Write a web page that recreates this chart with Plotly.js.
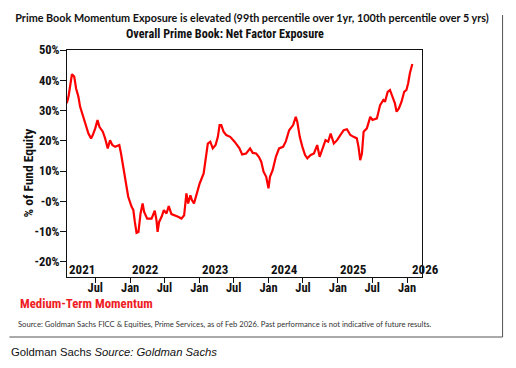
<!DOCTYPE html>
<html>
<head>
<meta charset="utf-8">
<script src="https://cdn.plot.ly/plotly-3.0.1.min.js"></script>
<style>
html,body{margin:0;padding:0;background:#fff;}
#chart{width:516px;height:368px;}
</style>
</head>
<body>
<div id="chart"></div>
<script>
// Data (approximate)
const dates = [
 '2021-02-01','2021-02-10','2021-02-28','2021-03-12','2021-03-22','2021-04-03','2021-04-12','2021-04-26','2021-05-08','2021-05-26',
 '2021-06-09','2021-06-18','2021-07-01','2021-07-13','2021-07-23','2021-08-10','2021-08-22','2021-09-05','2021-09-17','2021-09-29',
 '2021-10-14','2021-11-05','2021-11-14','2021-11-26','2021-12-09','2021-12-22','2022-01-09','2022-01-18','2022-01-26','2022-02-04',
 '2022-02-14','2022-02-25','2022-03-08','2022-03-16','2022-04-01','2022-04-24','2022-05-11','2022-05-20','2022-05-26','2022-06-03',
 '2022-06-16','2022-06-28','2022-07-12','2022-07-24','2022-08-07','2022-08-25','2022-09-11','2022-09-29','2022-10-13','2022-10-25',
 '2022-11-03','2022-11-15','2022-11-23','2022-12-04','2022-12-20','2023-01-03','2023-01-24','2023-02-07','2023-02-15','2023-02-28',
 '2023-03-13','2023-03-28','2023-04-09','2023-04-18','2023-04-27','2023-05-09','2023-05-23','2023-06-13','2023-07-06','2023-08-01',
 '2023-08-15','2023-09-05','2023-09-26','2023-10-10','2023-10-28','2023-11-11','2023-11-24','2023-12-06','2023-12-20','2024-01-01',
 '2024-01-09','2024-01-23','2024-02-09','2024-02-26','2024-03-18','2024-04-01','2024-04-19','2024-05-10','2024-05-24','2024-06-01',
 '2024-06-14','2024-06-28','2024-07-12','2024-07-24','2024-08-11','2024-08-28','2024-09-14','2024-09-27','2024-10-14','2024-10-28',
 '2024-11-11','2024-11-24','2024-12-11','2024-12-28','2025-01-14','2025-02-01','2025-02-18','2025-03-08','2025-03-25','2025-04-11',
 '2025-04-20','2025-04-29','2025-05-08','2025-05-17','2025-06-03','2025-06-21','2025-07-03','2025-07-26','2025-08-12','2025-08-29',
 '2025-09-07','2025-09-21','2025-10-03','2025-10-15','2025-10-29','2025-11-07','2025-11-19','2025-12-03','2025-12-17','2025-12-29',
 '2026-01-07','2026-01-16','2026-01-25','2026-01-29'
];
const momentum = [
 32.4,34.6,42.0,41.2,37.3,34.6,31.3,28.5,26.3,22.4,
 20.8,21.9,24.1,26.9,24.6,23.0,20.8,17.5,20.2,18.6,
 18.0,18.6,15.8,11.4,7.0,1.5,-1.8,-2.9,-6.8,-10.4,
 -10.1,-4.0,-0.7,-3.5,-5.7,-5.7,-3.1,-6.2,-10.1,-6.8,
 -5.1,-2.9,-4.0,-1.6,-4.2,-4.6,-5.1,-5.7,-4.6,2.6,
 -0.7,2.0,0.4,-0.7,2.6,5.9,9.2,15.8,19.1,19.7,
 17.5,18.6,21.3,25.2,25.2,23.0,21.9,21.3,19.7,17.5,
 15.5,15.8,17.5,16.0,15.8,14.7,13.1,9.8,8.1,4.3,
 8.1,10.3,14.7,17.5,18.0,19.7,23.5,25.2,27.9,26.3,
 21.3,18.0,15.3,14.2,15.3,15.8,18.6,14.7,18.0,20.2,
 19.7,22.4,19.1,20.2,21.9,23.5,23.8,21.9,21.3,20.8,
 18.0,13.6,15.8,23.0,24.1,27.9,26.9,27.4,31.8,33.5,
 32.9,36.2,36.8,34.6,32.4,29.6,30.7,32.9,36.2,36.8,
 39.0,42.3,45.0,45.4
];
const yTickVals = [-20,-10,0,10,20,30,40,50];
const yTickText = ['-20%','-10%','-0%','10%','20%','30%','40%','50%'];
const xTickVals = ['2021-07-01','2022-01-01','2022-07-01','2023-01-01','2023-07-01','2024-01-01','2024-07-01','2025-01-01','2025-07-01','2026-01-01'];
const xTickText = ['Jul','Jan','Jul','Jan','Jul','Jan','Jul','Jan','Jul','Jan'];
const yearLabels = ['2021','2022','2023','2024','2025','2026'];
const yearPos = ['2021-02-03','2022-01-03','2023-01-03','2024-01-03','2025-01-03','2026-01-15'];

const condensed = "'Liberation Sans Narrow','Roboto Condensed','DejaVu Sans Condensed',sans-serif";

const annotations = yearLabels.map((t,i)=>({
  text:'<b>'+t+'</b>', x:yearPos[i], xref:'x', y:0.035, yref:'paper',
  xanchor:'left', yanchor:'middle', showarrow:false,
  font:{family:condensed,size:13,color:'#111'}
}));

annotations.push(
 {text:'<b>Overall Prime Book: Net Factor Exposure</b>', xref:'paper', yref:'paper', x:0.445, y:1.0705,
  xanchor:'center', yanchor:'middle', showarrow:false, font:{family:condensed,size:12.2,color:'#111'}},
 {text:'<b>% of Fund Equity</b>', xref:'paper', yref:'paper', x:-0.11, y:0.46, textangle:-90,
  xanchor:'center', yanchor:'middle', showarrow:false, font:{family:condensed,size:13.5,color:'#111'}},
 {text:'<b>Medium-Term Momentum</b>', xref:'paper', yref:'paper', x:-0.137, y:(277-303)/227,
  xanchor:'left', yanchor:'middle', showarrow:false, font:{family:condensed,size:12.8,color:'#ee1c25'}},
 {text:'Source: Goldman Sachs FICC &amp; Equities, Prime Services, as of Feb 2026. Past performance is not indicative of future results.',
  xref:'paper', yref:'paper', x:(16-66.7)/355.6, y:(277-324)/227,
  xanchor:'left', yanchor:'middle', showarrow:false, font:{family:'Lato, sans-serif',size:7.65,color:'#333'}},
 {text:'Goldman Sachs <i>Source: Goldman Sachs</i>', xref:'paper', yref:'paper', x:(9-66.7)/355.6, y:(277-352)/227,
  xanchor:'left', yanchor:'middle', showarrow:false, font:{family:'Liberation Sans, Arial, sans-serif',size:11.3,color:'#111'}}
);

const shapes = [
 {type:'line', xref:'paper', yref:'paper', x0:(503-66.7)/355.6, x1:(503-66.7)/355.6, y0:(277-15)/227, y1:(277-337)/227,
  line:{color:'#555',width:1}},
 {type:'line', xref:'paper', yref:'paper', x0:(9-66.7)/355.6, x1:(503-66.7)/355.6, y0:(277-337)/227, y1:(277-337)/227,
  line:{color:'#555',width:1}}
];

const trace = {
  x:dates, y:momentum, type:'scatter', mode:'lines',
  line:{color:'#ff0000', width:2.2}, hoverinfo:'skip'
};

const layout = {
  width:516, height:368,
  margin:{l:66.7, r:93.7, t:50, b:91},
  paper_bgcolor:'#fff', plot_bgcolor:'#fff',
  showlegend:false,
  title:{text:'<b>Prime Book Momentum Exposure is elevated (99th percentile over 1yr, 100th percentile over 5 yrs)</b>',
    x:252/516, xref:'container', xanchor:'center', y:1-18/368, yref:'container', yanchor:'middle',
    font:{family:'Lato, sans-serif', size:10.8, color:'#111'}},
  xaxis:{
    type:'date', range:['2021-02-02','2026-03-21'],
    tickmode:'array', tickvals:xTickVals, ticktext:xTickText,
    ticks:'outside', ticklen:5, tickcolor:'#111', tickwidth:1,
    ticklabelstandoff:-6,
    showline:true, linecolor:'#111', linewidth:1, mirror:true,
    showgrid:false, zeroline:false,
    tickfont:{family:condensed, size:12.5, color:'#111', weight:'bold'}
  },
  yaxis:{
    range:[-25,50], tickmode:'array', tickvals:yTickVals, ticktext:yTickText,
    ticks:'outside', ticklen:6, tickcolor:'#111', tickwidth:1,
    ticklabelstandoff:-2,
    showline:true, linecolor:'#111', linewidth:1, mirror:true,
    showgrid:false, zeroline:false,
    tickfont:{family:condensed, size:12.5, color:'#111', weight:'bold'}
  },
  annotations:annotations,
  shapes:shapes
};

Plotly.newPlot('chart',[trace],layout,{staticPlot:true,displayModeBar:false});
</script>
</body>
</html>
